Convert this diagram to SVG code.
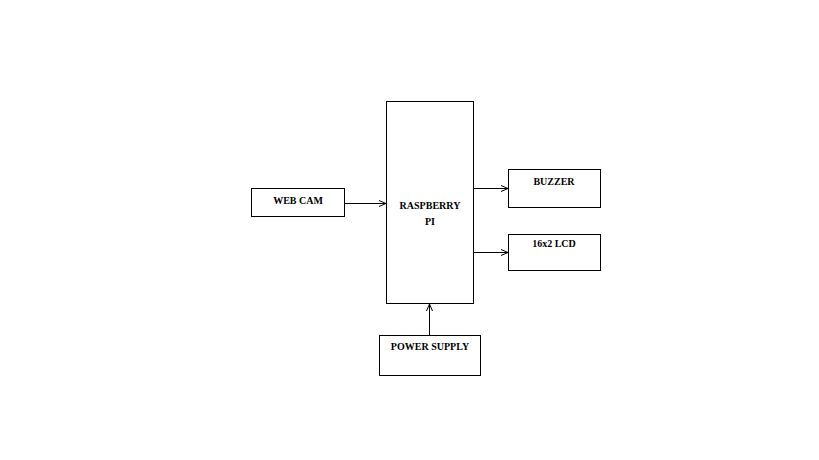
<svg xmlns="http://www.w3.org/2000/svg" width="819" height="460" viewBox="0 0 819 460">
<style>
.b{fill:#fff;stroke:#000;stroke-width:1}
.t{font-family:"Liberation Serif",serif;font-weight:bold;font-size:10px;text-anchor:middle;fill:#000}
.c{stroke:#000;stroke-width:1;fill:none}
</style>
<defs><marker id="a" markerWidth="10" markerHeight="10" refX="8" refY="4" orient="auto" markerUnits="userSpaceOnUse"><path d="M1,1 L8,4 L1,7" fill="none" stroke="#000" stroke-width="1"/></marker></defs>
<rect width="819" height="460" fill="#fff"/>
<g id="webcam"><rect class="b" x="251.5" y="188.5" width="93" height="28"/><text class="t" x="298" y="204">WEB CAM</text></g>
<g id="rpi"><rect class="b" x="386.5" y="101.5" width="87" height="202"/><text class="t" x="430" y="209">RASPBERRY</text><text class="t" x="430" y="225">PI</text></g>
<g id="buzzer"><rect class="b" x="508.5" y="169.5" width="92" height="38"/><text class="t" x="554" y="185">BUZZER</text></g>
<g id="lcd"><rect class="b" x="508.5" y="234.5" width="92" height="36"/><text class="t" x="554" y="247">16x2 LCD</text></g>
<g id="power"><rect class="b" x="379.5" y="335.5" width="101" height="40"/><text class="t" x="430" y="350">POWER SUPPLY</text></g>
<g id="connectors">
<path class="c" d="M344.5,203.5 H386" marker-end="url(#a)"/>
<path class="c" d="M473.5,188.5 H508" marker-end="url(#a)"/>
<path class="c" d="M473.5,252.5 H508" marker-end="url(#a)"/>
<path class="c" d="M429.5,335.5 V304" marker-end="url(#a)"/>
</g>
</svg>
